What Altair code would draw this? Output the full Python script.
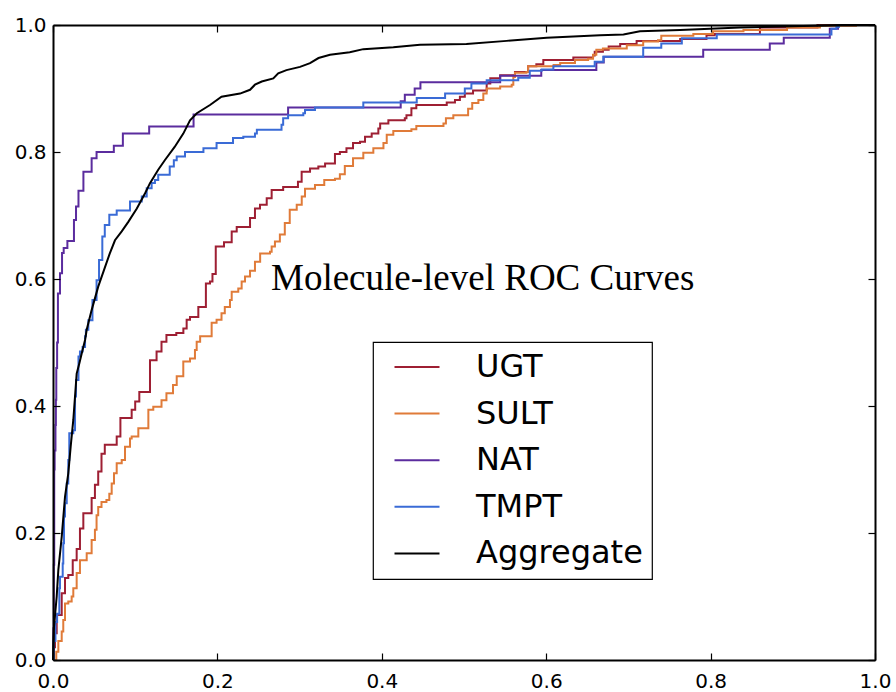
import altair as alt
import pandas as pd

# ROC curve data: false positive rate / true positive rate per model
SERIES = ["UGT", "SULT", "NAT", "TMPT", "Aggregate"]
COLORS = ["#9e1f33", "#e07b39", "#5b2c9e", "#3a6bd6", "#000000"]
TICKS = [0.0, 0.2, 0.4, 0.6, 0.8, 1.0]
TITLE = "Molecule-level ROC Curves"

# step curves: each pair is (fpr where the curve rises, tpr level reached)
UGT_FPR = [0.0, 0.001, 0.0024, 0.0045, 0.0106, 0.0146, 0.0186, 0.024, 0.0288, 0.0328,
           0.0369, 0.047, 0.051, 0.055, 0.059, 0.063, 0.0775, 0.082, 0.0957, 0.100,
           0.105, 0.118, 0.126, 0.132, 0.138, 0.150, 0.1586, 0.1626, 0.1667, 0.1768,
           0.186, 0.191, 0.194, 0.198, 0.208, 0.2174, 0.2235, 0.2397, 0.2457, 0.2518,
           0.260, 0.266, 0.280, 0.298, 0.3025, 0.3127, 0.3228, 0.331, 0.343, 0.349,
           0.357, 0.365, 0.3735, 0.3796, 0.3877, 0.3958, 0.398, 0.408, 0.428, 0.430,
           0.436, 0.442, 0.479, 0.489, 0.495, 0.501, 0.511, 0.5276, 0.532, 0.544,
           0.562, 0.578, 0.588, 0.5965, 0.633, 0.657, 0.659, 0.669, 0.676, 0.690,
           0.710, 0.763, 0.795, 0.805, 0.860, 0.930, 1.0]
UGT_TPR = [0.0, 0.020, 0.042, 0.071, 0.105, 0.129, 0.134, 0.157, 0.175, 0.207,
           0.231, 0.255, 0.276, 0.297, 0.325, 0.339, 0.352, 0.381, 0.394, 0.407,
           0.422, 0.472, 0.486, 0.501, 0.512, 0.515, 0.522, 0.536, 0.540, 0.556,
           0.593, 0.596, 0.608, 0.651, 0.658, 0.675, 0.682, 0.696, 0.711, 0.717,
           0.727, 0.740, 0.745, 0.753, 0.769, 0.774, 0.777, 0.782, 0.797, 0.800,
           0.806, 0.814, 0.816, 0.824, 0.829, 0.837, 0.845, 0.850, 0.853, 0.858,
           0.869, 0.874, 0.878, 0.882, 0.887, 0.892, 0.897, 0.908, 0.916, 0.921,
           0.926, 0.935, 0.938, 0.945, 0.949, 0.952, 0.958, 0.961, 0.966, 0.970,
           0.975, 0.978, 0.984, 0.986, 0.996, 1.0, 1.0]

SULT_FPR = [0.0, 0.004, 0.0065, 0.0106, 0.0125, 0.0146, 0.0186, 0.0227, 0.0247, 0.0288,
            0.0328, 0.041, 0.047, 0.051, 0.053, 0.055, 0.059, 0.065, 0.0685, 0.0714,
            0.0742, 0.0775, 0.0836, 0.0876, 0.0937, 0.0957, 0.1038, 0.116, 0.122, 0.132,
            0.138, 0.146, 0.1505, 0.1585, 0.1667, 0.1727, 0.1748, 0.179, 0.193, 0.199,
            0.205, 0.209, 0.2153, 0.2174, 0.2254, 0.2295, 0.2336, 0.2397, 0.2457, 0.252,
            0.264, 0.266, 0.270, 0.276, 0.282, 0.288, 0.2965, 0.3026, 0.3066, 0.3187,
            0.330, 0.343, 0.349, 0.355, 0.365, 0.3775, 0.3897, 0.402, 0.406, 0.414,
            0.436, 0.442, 0.475, 0.478, 0.487, 0.505, 0.510, 0.5175, 0.5235, 0.5276,
            0.544, 0.558, 0.560, 0.562, 0.576, 0.578, 0.609, 0.617, 0.635, 0.651,
            0.657, 0.661, 0.669, 0.698, 0.718, 0.736, 0.740, 0.779, 0.803, 0.840,
            0.893, 0.933, 0.978]
SULT_TPR = [0.0, 0.013, 0.030, 0.045, 0.063, 0.089, 0.092, 0.100, 0.113, 0.137,
            0.157, 0.168, 0.189, 0.205, 0.228, 0.241, 0.249, 0.252, 0.262, 0.278,
            0.294, 0.310, 0.315, 0.336, 0.349, 0.352, 0.365, 0.394, 0.399, 0.409,
            0.420, 0.433, 0.447, 0.470, 0.475, 0.488, 0.501, 0.510, 0.531, 0.536,
            0.546, 0.556, 0.567, 0.580, 0.585, 0.596, 0.604, 0.613, 0.627, 0.640,
            0.643, 0.651, 0.659, 0.670, 0.688, 0.709, 0.717, 0.730, 0.742, 0.748,
            0.756, 0.758, 0.765, 0.778, 0.790, 0.799, 0.806, 0.814, 0.827, 0.833,
            0.836, 0.841, 0.845, 0.853, 0.858, 0.868, 0.877, 0.882, 0.892, 0.900,
            0.903, 0.906, 0.918, 0.925, 0.926, 0.935, 0.937, 0.940, 0.945, 0.947,
            0.953, 0.961, 0.963, 0.968, 0.974, 0.976, 0.983, 0.986, 0.990, 0.992,
            0.996, 0.999, 0.999]

NAT_FPR = [0.0, 0.0005, 0.001, 0.0015, 0.002, 0.003, 0.0035, 0.004, 0.005, 0.006,
           0.0085, 0.011, 0.013, 0.0175, 0.0255, 0.028, 0.031, 0.037, 0.047, 0.053,
           0.074, 0.085, 0.117, 0.171, 0.286, 0.423, 0.428, 0.440, 0.447, 0.544,
           0.594, 0.661, 0.670, 0.791, 0.872, 0.889, 0.945, 0.955, 1.0]
NAT_TPR = [0.0, 0.050, 0.150, 0.300, 0.330, 0.370, 0.410, 0.460, 0.500, 0.577,
           0.609, 0.641, 0.649, 0.660, 0.693, 0.714, 0.739, 0.769, 0.790, 0.800,
           0.810, 0.829, 0.840, 0.859, 0.870, 0.880, 0.890, 0.900, 0.910, 0.920,
           0.929, 0.941, 0.950, 0.961, 0.971, 0.980, 0.994, 1.0, 1.0]

TMPT_FPR = [0.0, 0.001, 0.003, 0.005, 0.0077, 0.0085, 0.0118, 0.0125, 0.0134, 0.0146,
            0.0167, 0.0186, 0.0198, 0.0247, 0.0268, 0.028, 0.031, 0.0328, 0.036, 0.039,
            0.040, 0.043, 0.048, 0.053, 0.056, 0.060, 0.063, 0.0685, 0.0775, 0.0937,
            0.108, 0.114, 0.120, 0.124, 0.128, 0.142, 0.147, 0.1505, 0.1606, 0.183,
            0.199, 0.219, 0.2315, 0.2457, 0.248, 0.278, 0.280, 0.286, 0.3045, 0.3066,
            0.3187, 0.3775, 0.4425, 0.477, 0.501, 0.509, 0.5276, 0.566, 0.580, 0.5945,
            0.6087, 0.659, 0.6695, 0.718, 0.740, 0.765, 0.8075, 0.947, 0.953, 0.956, 1.0]
TMPT_TPR = [0.0, 0.030, 0.060, 0.073, 0.113, 0.131, 0.152, 0.184, 0.226, 0.247,
            0.278, 0.315, 0.357, 0.362, 0.415, 0.441, 0.478, 0.486, 0.493, 0.510,
            0.520, 0.535, 0.567, 0.598, 0.630, 0.667, 0.685, 0.701, 0.708, 0.722,
            0.730, 0.743, 0.751, 0.756, 0.764, 0.777, 0.787, 0.793, 0.800, 0.806,
            0.814, 0.822, 0.824, 0.829, 0.835, 0.843, 0.853, 0.858, 0.861, 0.866,
            0.870, 0.878, 0.885, 0.892, 0.900, 0.908, 0.913, 0.917, 0.928, 0.930,
            0.935, 0.942, 0.950, 0.964, 0.971, 0.979, 0.985, 0.994, 0.997, 1.0, 1.0]

# pooled curve, drawn point to point
AGG_FPR = [0.0, 0.0005, 0.0012, 0.0045, 0.0065, 0.0106, 0.0146, 0.0186, 0.0215, 0.0247,
           0.0288, 0.032, 0.035, 0.039, 0.041, 0.047, 0.055, 0.062, 0.069, 0.0754,
           0.0836, 0.0916, 0.102, 0.112, 0.118, 0.128, 0.136, 0.148, 0.1585, 0.1667,
           0.175, 0.191, 0.205, 0.2275, 0.2397, 0.2457, 0.254, 0.268, 0.274, 0.284,
           0.3005, 0.3127, 0.323, 0.337, 0.361, 0.3775, 0.414, 0.4465, 0.503, 0.552,
           0.6006, 0.6655, 0.694, 0.714, 0.763, 0.836, 0.925, 0.960, 1.0]
AGG_TPR = [0.0, 0.030, 0.052, 0.100, 0.142, 0.194, 0.257, 0.294, 0.336, 0.378,
           0.451, 0.467, 0.483, 0.504, 0.520, 0.551, 0.588, 0.614, 0.640, 0.661,
           0.675, 0.690, 0.711, 0.735, 0.751, 0.772, 0.787, 0.808, 0.829, 0.850,
           0.861, 0.874, 0.887, 0.892, 0.898, 0.906, 0.911, 0.916, 0.924, 0.929,
           0.934, 0.940, 0.948, 0.953, 0.957, 0.962, 0.965, 0.969, 0.970, 0.975,
           0.980, 0.984, 0.985, 0.990, 0.992, 0.996, 0.999, 1.0, 1.0]

W, H = 822, 635
LABEL_FONT = "DejaVu Sans"


def frame(name, fpr, tpr):
    return pd.DataFrame({"series": name, "fpr": fpr, "tpr": tpr, "step": list(range(len(fpr)))})


steps = pd.concat([
    frame("UGT", UGT_FPR, UGT_TPR),
    frame("SULT", SULT_FPR, SULT_TPR),
    frame("NAT", NAT_FPR, NAT_TPR),
    frame("TMPT", TMPT_FPR, TMPT_TPR),
], ignore_index=True)
agg = frame("Aggregate", AGG_FPR, AGG_TPR)

unit = alt.Scale(domain=[0, 1], nice=False, zero=False)
color_scale = alt.Scale(domain=SERIES, range=COLORS)


def tick_axis(orient, offset, domain):
    return alt.Axis(orient=orient, offset=offset, values=TICKS, labels=False, title=None,
                    grid=False, ticks=True, tickSize=7, tickWidth=1.2, tickColor="black",
                    domain=domain, domainColor="black", domainWidth=2, zindex=1)


label_x = alt.Axis(orient="bottom", values=TICKS, format=".1f", title=None, grid=False,
                   ticks=False, tickSize=0, labelPadding=11, labelFont=LABEL_FONT,
                   labelFontSize=20, labelColor="black", labelFlush=False,
                   labelOverlap=False, domain=True, domainColor="black",
                   domainWidth=2, zindex=1)
label_y = alt.Axis(orient="left", values=TICKS, format=".1f", title=None, grid=False,
                   ticks=False, tickSize=0, labelPadding=7, labelFont=LABEL_FONT,
                   labelFontSize=20, labelColor="black", labelOverlap=False,
                   domain=True, domainColor="black", domainWidth=2, zindex=1)

legend = alt.Legend(
    orient="none", legendX=320, legendY=317, title=None,
    symbolType="M-2,0H2", symbolSize=506, symbolStrokeWidth=2, symbolOffset=19,
    labelFont=LABEL_FONT, labelFontSize=32, labelColor="black", labelLimit=400,
    labelOffset=43, rowPadding=14.6, padding=9,
    strokeColor="black", fillColor="white",
)

step_lines = alt.Chart(steps).mark_line(interpolate="step-after", strokeWidth=2).encode(
    x=alt.X("fpr:Q", scale=unit, axis=label_x),
    y=alt.Y("tpr:Q", scale=unit, axis=label_y),
    color=alt.Color("series:N", scale=color_scale, legend=legend),
    order=alt.Order("step:Q"),
)

agg_line = alt.Chart(agg).mark_line(strokeWidth=2, color="#000000").encode(
    x=alt.X("fpr:Q", scale=unit, axis=None),
    y=alt.Y("tpr:Q", scale=unit, axis=None),
    order=alt.Order("step:Q"),
)

# inward ticks along the bottom and left edges
inner_a = alt.Chart(agg).mark_point(opacity=0).encode(
    x=alt.X("fpr:Q", scale=unit, axis=tick_axis("top", -H, False)),
    y=alt.Y("tpr:Q", scale=unit, axis=tick_axis("right", -W, False)),
)
# inward ticks and frame along the top and right edges
inner_b = alt.Chart(agg).mark_point(opacity=0).encode(
    x=alt.X("fpr:Q", scale=unit, axis=tick_axis("bottom", -H, True)),
    y=alt.Y("tpr:Q", scale=unit, axis=tick_axis("left", -W, True)),
)

heading = alt.Chart(pd.DataFrame({"label": [TITLE]})).mark_text(
    font="Liberation Serif", fontSize=37, color="black", align="left", baseline="alphabetic"
).encode(text="label:N", x=alt.value(218), y=alt.value(265))

chart = alt.layer(step_lines, agg_line, inner_a, inner_b, heading).resolve_axis(
    x="independent", y="independent"
).properties(
    width=W, height=H,
    autosize=alt.AutoSizeParams(type="none"),
    padding={"left": 53, "top": 25, "right": 21, "bottom": 32},
    background="white",
).configure_view(stroke=None).configure_legend(strokeWidth=1.2, cornerRadius=0)

chart.save("out.html", embed_options={"renderer": "svg", "actions": False})
